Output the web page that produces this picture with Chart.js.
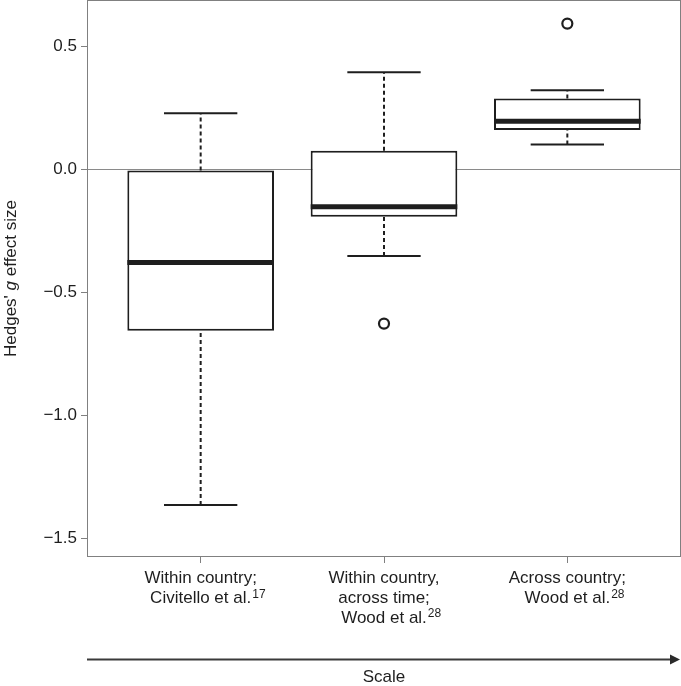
<!DOCTYPE html>
<html><head><meta charset="utf-8">
<script src="https://cdn.jsdelivr.net/npm/chart.js@4/dist/chart.umd.min.js"></script>
<style>html,body{margin:0;padding:0;background:#fff}#wrap{width:681px;height:686px}</style>
</head><body><div id="wrap"><canvas id="c" width="681" height="686"></canvas></div>
<script>
const categories = [
  ["Within country;", "Civitello et al."],
  ["Within country,", "across time;", "Wood et al."],
  ["Across country;", "Wood et al."]
];
const references  = ["17", "28", "28"];
const whiskerLow  = [-1.365, -0.352, 0.102];
const q1          = [-0.656, -0.192, 0.161];
const median      = [-0.378, -0.151, 0.197];
const q3          = [-0.004, 0.076, 0.289];
const whiskerHigh = [0.229, 0.396, 0.323];
const outliers    = [{cat: 2, value: -0.627}, {cat: 3, value: 0.594}];
const yTicks = [-1.5, -1.0, -0.5, 0.0, 0.5];
const yTitle = ["Hedges' ", "g", " effect size"];
const xTitle = "Scale";

const INK = '#1e1e1e', FRAME = '#808080';
const FONT = '"Liberation Sans", Arial, sans-serif';
const FS = 17, SUP_FS = 12;
const BOX_HALF = 0.4, CAP_HALF = 0.2;

const datasets = [];
datasets.push({
  type: 'bar', order: 5,
  data: categories.map((c, i) => ({x: i + 1, y: [q1[i], q3[i]]})),
  backgroundColor: '#ffffff', borderColor: INK, borderWidth: 2, borderSkipped: false,
  barPercentage: 0.8, categoryPercentage: 1.0, grouped: false
});
const seg = (pts, extra) => Object.assign({
  type: 'line', data: pts, borderColor: INK, borderWidth: 2, pointRadius: 0,
  fill: false, tension: 0, borderCapStyle: 'butt'
}, extra);
categories.forEach((c, i) => {
  const x = i + 1;
  datasets.push(seg([{x, y: q3[i]}, {x, y: whiskerHigh[i]}], {borderDash: [4, 3], order: 4}));
  datasets.push(seg([{x, y: whiskerLow[i]}, {x, y: q1[i]}], {borderDash: [4, 3], order: 4}));
  datasets.push(seg([{x: x - CAP_HALF, y: whiskerHigh[i]}, {x: x + CAP_HALF, y: whiskerHigh[i]}], {order: 3}));
  datasets.push(seg([{x: x - CAP_HALF, y: whiskerLow[i]}, {x: x + CAP_HALF, y: whiskerLow[i]}], {order: 3}));
  datasets.push(seg([{x: x - BOX_HALF, y: median[i]}, {x: x + BOX_HALF, y: median[i]}], {borderWidth: 5, order: 2}));
});
datasets.push({
  type: 'scatter', order: 1,
  data: outliers.map(o => ({x: o.cat, y: o.value})),
  pointRadius: 5, pointBorderWidth: 2.2, pointBackgroundColor: '#fff', pointBorderColor: INK
});

const decor = {
  id: 'decor',
  afterDraw(chart) {
    const ctx = chart.ctx, a = chart.chartArea;
    ctx.save();
    ctx.strokeStyle = FRAME; ctx.lineWidth = 1;
    ctx.strokeRect(Math.round(a.left) + 0.5, Math.round(a.top) + 0.5,
                   Math.round(a.right - a.left) - 1, Math.round(a.bottom - a.top) - 1);
    ctx.restore();

    // y title with italic g
    ctx.save();
    ctx.fillStyle = INK;
    ctx.translate(11, (a.top + a.bottom) / 2);
    ctx.rotate(-Math.PI / 2);
    ctx.textBaseline = 'middle';
    const fN = FS + 'px ' + FONT, fI = 'italic ' + FS + 'px ' + FONT;
    const parts = [[yTitle[0], fN], [yTitle[1], fI], [yTitle[2], fN]];
    let w = 0;
    parts.forEach(p => { ctx.font = p[1]; w += ctx.measureText(p[0]).width; });
    let x = -w / 2;
    ctx.textAlign = 'left';
    parts.forEach(p => { ctx.font = p[1]; ctx.fillText(p[0], x, 0); x += ctx.measureText(p[0]).width; });
    ctx.restore();

    // superscript reference numbers after the last line of each category label
    const xs = chart.scales.x;
    const items = xs.getLabelItems ? xs.getLabelItems() : [];
    ctx.save();
    ctx.fillStyle = INK;
    ctx.textAlign = 'left';
    ctx.textBaseline = 'alphabetic';
    categories.forEach((lines, i) => {
      const item = items[i];
      const lh = item && item.font ? item.font.lineHeight : FS * 1.15;
      const midFirst = item ? item.options.translation[1] + item.textOffset
                            : xs.top + 6 + 6 + lh / 2;
      const midLast = midFirst + (lines.length - 1) * lh;
      ctx.font = FS + 'px ' + FONT;
      const lw = ctx.measureText(lines[lines.length - 1]).width;
      const cx = xs.getPixelForValue(i + 1);
      ctx.font = SUP_FS + 'px ' + FONT;
      ctx.fillText(references[i], cx + lw / 2 + 1, midLast - 0.5);
    });
    ctx.restore();

    // arrow along the scale
    ctx.save();
    const y = 659.5;
    ctx.strokeStyle = '#3a3a3a'; ctx.fillStyle = '#2a2a2a'; ctx.lineWidth = 2;
    ctx.beginPath(); ctx.moveTo(a.left, y); ctx.lineTo(a.right - 6, y); ctx.stroke();
    ctx.beginPath(); ctx.moveTo(a.right - 1, y); ctx.lineTo(a.right - 11, y - 5); ctx.lineTo(a.right - 11, y + 5); ctx.closePath(); ctx.fill();
    ctx.restore();
  }
};

new Chart(document.getElementById('c'), {
  data: {datasets},
  options: {
    responsive: false, animation: false,
    layout: {padding: 0, autoPadding: false},
    plugins: {legend: {display: false}, tooltip: {enabled: false}},
    scales: {
      x: {
        type: 'linear', min: 0.38, max: 3.62, offset: false,
        afterBuildTicks: s => { s.ticks = categories.map((c, i) => ({value: i + 1})); },
        afterFit: s => { s.height = 129; s.paddingLeft = 0; s.paddingRight = 0; },
        ticks: {
          autoSkip: false, maxRotation: 0, padding: 6, color: INK,
          font: {family: FONT, size: FS, lineHeight: 1.15},
          callback: (v) => categories[Math.round(v) - 1] || ''
        },
        grid: {offset: false, drawOnChartArea: false, drawTicks: true, tickLength: 6, tickColor: FRAME, color: FRAME},
        border: {display: false},
        title: {display: true, text: xTitle, color: INK, font: {family: FONT, size: FS, lineHeight: 1.2}, padding: {top: 0, bottom: -2}}
      },
      y: {
        type: 'linear', min: -1.577, max: 0.690,
        afterBuildTicks: s => { s.ticks = yTicks.map(v => ({value: v})); },
        afterFit: s => { s.width = 87; s.paddingTop = 0; s.paddingBottom = 0; },
        ticks: {
          padding: 4, color: INK, font: {family: FONT, size: FS},
          callback: v => v.toFixed(1).replace('-', '\u2212')
        },
        grid: {
          drawTicks: true, tickLength: 6, tickColor: FRAME,
          color: c => (c.tick && c.tick.value === 0) ? '#8a8a8a' : 'rgba(0,0,0,0)',
          lineWidth: 1
        },
        border: {display: false}
      }
    }
  },
  plugins: [decor]
});
</script></body></html>
